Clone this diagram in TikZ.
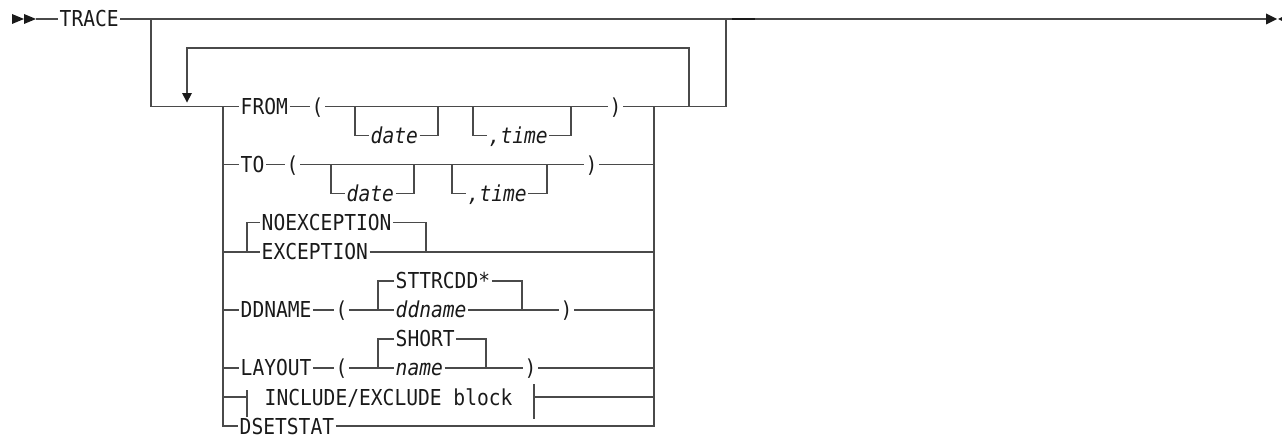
\documentclass[tikz,border=0pt]{standalone}
\usepackage{fontspec}
\newfontfamily\synfont{DejaVu Sans Mono}[FakeStretch=0.893]
\definecolor{linegray}{HTML}{4A4A4A}
\definecolor{txt}{HTML}{1A1A1A}
\begin{document}
\begin{tikzpicture}[x=1pt,y=-1pt,
  ln/.style={draw=linegray, line width=1.5pt},
  arr/.style={fill=txt, draw=none},
  t/.style={font={\synfont\fontsize{21.95}{24}\selectfont}, text=txt, inner xsep=1.5pt, inner ysep=0pt, text height=16pt, text depth=0pt, anchor=west},
  ti/.style={t, font={\synfont\itshape\fontsize{21.95}{24}\selectfont}}]
\clip (0,0) rectangle (1282,436);
% text nodes
\node[t] (trace) at (58,19) {TRACE};
\node[t] (from) at (239,106.5) {FROM};
\node[t] (fromlp) at (310,106.5) {(};
\node[ti] (fdate) at (369,135.55) {date};
\node[ti] (ftime) at (487,135.55) {,time};
\node[t] (fromrp) at (608,106.5) {)};
\node[t] (to) at (239,164.6) {TO};
\node[t] (tolp) at (285,164.6) {(};
\node[ti] (tdate) at (345,193.65) {date};
\node[ti] (ttime) at (466,193.65) {,time};
\node[t] (torp) at (584,164.6) {)};
\node[t] (noexc) at (260,222.7) {NOEXCEPTION};
\node[t] (exc) at (260,251.75) {EXCEPTION};
\node[t] (ddn) at (239,309.85) {DDNAME};
\node[t] (ddlp) at (334,309.85) {(};
\node[t] (sttr) at (394,280.8) {STTRCDD*};
\node[ti] (ddname) at (394,309.85) {ddname};
\node[t] (ddrp) at (559,309.85) {)};
\node[t] (lay) at (239,367.95) {LAYOUT};
\node[t] (laylp) at (334,367.95) {(};
\node[t] (short) at (394,338.9) {SHORT};
\node[ti] (name) at (394,367.95) {name};
\node[t] (layrp) at (523,367.95) {)};
\node[t] (incl) at (263,397) {INCLUDE/EXCLUDE block};
\node[t] (dset) at (238,426) {DSETSTAT};
% coordinates
\coordinate (start) at (36,19);
\coordinate (bL) at (151,19);
\coordinate (bR) at (726,19);
\coordinate (endA) at (1266,19);
\coordinate (lpL) at (187,48.2);
\coordinate (lpR) at (689,48.2);
\coordinate (lpArr) at (187,93);
% start and end arrows
\fill[arr] (12,14) -- (24,19) -- (12,24) -- cycle;
\fill[arr] (24,14) -- (36,19) -- (24,24) -- cycle;
\fill[arr] (1266,13.5) -- (1277,19) -- (1266,24.5) -- cycle;
\fill[arr] (1289,13.5) -- (1278,19) -- (1289,24.5) -- cycle;
% main line
\draw[ln] (start) -- (trace.west);
\draw[ln] (trace.east) -- (endA);
\draw[line width=2.4pt, draw=txt] (732,19) -- (755,19);
% optional bypass and repeat loop
\draw[ln] (bL) -- (151,106.5) -- (from.west);
\draw[ln] (fromrp.east) -- (726,106.5) -- (bR);
\draw[ln] (689,106.5) -- (lpR) -- (lpL) -- (lpArr);
\fill[arr] (182,93) -- (192,93) -- (187,102.5) -- cycle;
% choice bars
\draw[ln] (223,106.5) -- (223,426) -- (dset.west);
\draw[ln] (dset.east) -- (654,426) -- (654,106.5);
% FROM row
\draw[ln] (from.east) -- (fromlp.west);
\draw[ln] (fromlp.east) -- (fromrp.west);
\draw[ln] (355,106.5) -- (355,135.55) -- (fdate.west);
\draw[ln] (fdate.east) -- (438,135.55) -- (438,106.5);
\draw[ln] (473,106.5) -- (473,135.55) -- (ftime.west);
\draw[ln] (ftime.east) -- (571,135.55) -- (571,106.5);
% TO row
\draw[ln] (223,164.6) -- (to.west);
\draw[ln] (to.east) -- (tolp.west);
\draw[ln] (tolp.east) -- (torp.west);
\draw[ln] (331,164.6) -- (331,193.65) -- (tdate.west);
\draw[ln] (tdate.east) -- (414,193.65) -- (414,164.6);
\draw[ln] (452,164.6) -- (452,193.65) -- (ttime.west);
\draw[ln] (ttime.east) -- (547,193.65) -- (547,164.6);
\draw[ln] (torp.east) -- (654,164.6);
% EXCEPTION row
\draw[ln] (223,251.75) -- (exc.west);
\draw[ln] (247,251.75) -- (247,222.7) -- (noexc.west);
\draw[ln] (noexc.east) -- (426,222.7) -- (426,251.75);
\draw[ln] (exc.east) -- (654,251.75);
% DDNAME row
\draw[ln] (223,309.85) -- (ddn.west);
\draw[ln] (ddn.east) -- (ddlp.west);
\draw[ln] (ddlp.east) -- (ddname.west);
\draw[ln] (378,309.85) -- (378,280.8) -- (sttr.west);
\draw[ln] (sttr.east) -- (522,280.8) -- (522,309.85);
\draw[ln] (ddname.east) -- (ddrp.west);
\draw[ln] (ddrp.east) -- (654,309.85);
% LAYOUT row
\draw[ln] (223,367.95) -- (lay.west);
\draw[ln] (lay.east) -- (laylp.west);
\draw[ln] (laylp.east) -- (name.west);
\draw[ln] (378,367.95) -- (378,338.9) -- (short.west);
\draw[ln] (short.east) -- (486,338.9) -- (486,367.95);
\draw[ln] (name.east) -- (layrp.west);
\draw[ln] (layrp.east) -- (654,367.95);
% INCLUDE/EXCLUDE block row
\draw[ln] (223,397) -- (247,397);
\draw[ln] (247,390) -- (247,417);
\draw[ln] (534,384) -- (534,419);
\draw[ln] (534,397) -- (654,397);
\end{tikzpicture}
\end{document}
